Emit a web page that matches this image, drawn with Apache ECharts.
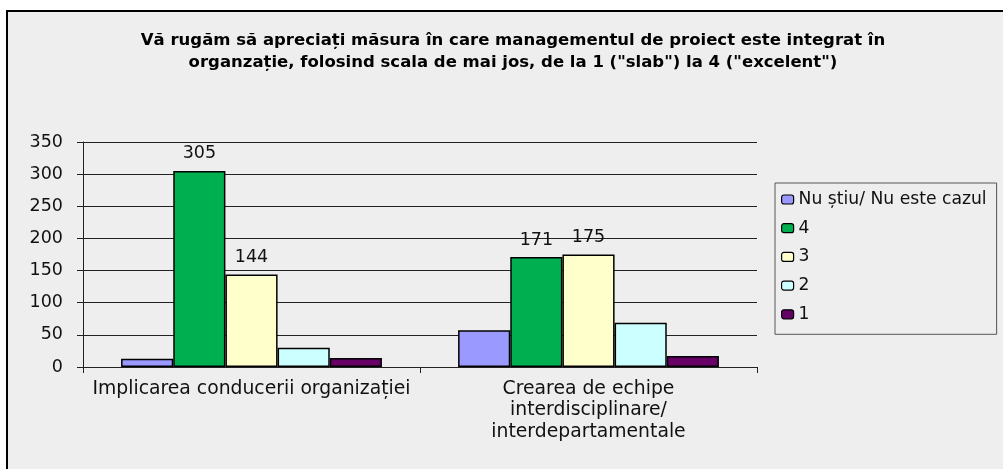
<!DOCTYPE html>
<html>
<head>
<meta charset="utf-8">
<script src="https://cdn.jsdelivr.net/npm/echarts@6/dist/echarts.min.js"></script>
<style>
html, body { margin: 0; padding: 0; background: #fff; }
#chart { width: 1003px; height: 469px; }
</style>
</head>
<body>
<div id="chart"></div>
<script>
var dom = document.getElementById("chart");
var myChart = echarts.init(dom);

var categories = ['Implicarea conducerii organizației', 'Crearea de echipe\ninterdisciplinare/\ninterdepartamentale'];
var seriesNames = ['Nu știu/ Nu este cazul', '4', '3', '2', '1'];
var valNuStiu = [13, 57];
var val4 = [305, 171];
var val3 = [144, 175];
var val2 = [30, 69];
var val1 = [14, 17];
var yTicks = [0, 50, 100, 150, 200, 250, 300, 350];

var colors = ['#9999ff', '#00b050', '#ffffcc', '#ccffff', '#660066'];
var allValues = [valNuStiu, val4, val3, val2, val1];
var showLabel = [false, true, true, false, false];
var font = "'DejaVu Sans', Verdana, sans-serif";

var series = [];
for (var i = 0; i < seriesNames.length; i++) {
    series.push({
        name: seriesNames[i],
        type: 'bar',
        data: allValues[i],
        barGap: '0%',
        barCategoryGap: '22.6%',
        itemStyle: { color: colors[i], borderColor: '#000', borderWidth: 1.5 },
        label: {
            show: showLabel[i],
            position: 'top',
            distance: 8,
            color: '#111',
            fontSize: 17.5,
            fontFamily: font
        }
    });
}

var option = {
    backgroundColor: '#fff',
    animation: false,
    graphic: [{
        type: 'rect',
        z: -10,
        silent: true,
        shape: { x: 7, y: 11, width: 1100, height: 600 },
        style: { fill: '#eeeeee', stroke: '#000', lineWidth: 2 }
    }],
    title: {
        text: 'Vă rugăm să apreciați măsura în care managementul de proiect este integrat în\norganzație, folosind scala de mai jos, de la 1 ("slab") la 4 ("excelent")',
        left: 513,
        top: 30,
        padding: 0,
        textAlign: 'center',
        textStyle: {
            fontFamily: font,
            fontSize: 16.5,
            fontWeight: 'bold',
            color: '#000',
            lineHeight: 22
        }
    },
    legend: {
        orient: 'vertical',
        left: 775,
        top: 183,
        padding: [8, 10, 11.5, 6],
        itemGap: 11.7,
        itemWidth: 12,
        itemHeight: 9,
        borderColor: '#555',
        borderWidth: 1,
        backgroundColor: '#eeeeee',
        data: seriesNames,
        itemStyle: { borderColor: '#000', borderWidth: 1.2 },
        textStyle: { fontFamily: font, fontSize: 17.2, color: '#111', lineHeight: 17 }
    },
    grid: {
        left: 83,
        right: 246,
        top: 142,
        bottom: 102,
        containLabel: false
    },
    xAxis: {
        type: 'category',
        data: categories,
        axisLine: { lineStyle: { color: '#222', width: 1 } },
        axisTick: { show: true, length: 6, lineStyle: { color: '#222' } },
        axisLabel: {
            fontFamily: font,
            fontSize: 18.8,
            color: '#111',
            lineHeight: 21.5,
            margin: 11,
            interval: 0
        }
    },
    yAxis: {
        type: 'value',
        min: yTicks[0],
        max: yTicks[yTicks.length - 1],
        interval: 50,
        axisLine: { show: true, lineStyle: { color: '#222', width: 1 } },
        axisTick: { show: true, length: 6, lineStyle: { color: '#222' } },
        axisLabel: { fontFamily: font, fontSize: 17.5, color: '#111', margin: 20 },
        splitLine: { lineStyle: { color: '#222', width: 1 } }
    },
    series: series
};

if (option && typeof option === "object") {
    myChart.setOption(option, true);
}
</script>
</body>
</html>
